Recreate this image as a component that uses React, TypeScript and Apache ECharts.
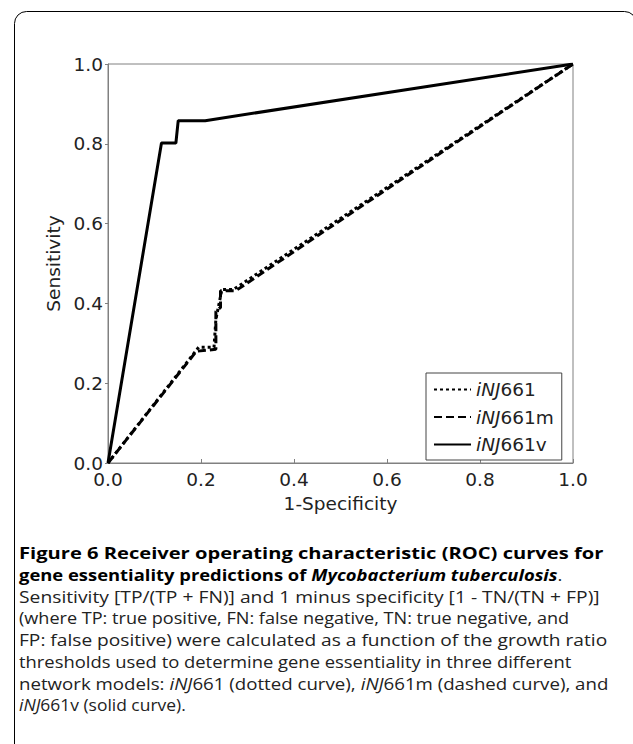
import React, { useEffect, useRef } from "react";
import * as echarts from "echarts";

const seriesNames = ["iNJ661", "iNJ661m", "iNJ661v"];
const dottedPts: [number, number][] = [
  [0, 0], [0.195, 0.29], [0.228, 0.29], [0.232, 0.36], [0.245, 0.435], [0.27, 0.435], [1, 1],
];
const dashedPts: [number, number][] = [
  [0, 0], [0.19, 0.28], [0.232, 0.285], [0.232, 0.38], [0.242, 0.39], [0.242, 0.432], [0.275, 0.432], [1, 1],
];
const solidPts: [number, number][] = [
  [0, 0], [0.115, 0.802], [0.146, 0.802], [0.151, 0.858], [0.209, 0.858], [1, 1],
];

const captionLines: string[] = [
  "{b|Figure 6 Receiver operating characteristic (ROC) curves for}",
  "{b|gene essentiality predictions of }{bi|Mycobacterium tuberculosis}{n|.}",
  "{n|Sensitivity [TP/(TP + FN)] and 1 minus specificity [1 - TN/(TN + FP)]}",
  "{n|(where TP: true positive, FN: false negative, TN: true negative, and}",
  "{n|FP: false positive) were calculated as a function of the growth ratio}",
  "{n|thresholds used to determine gene essentiality in three different}",
  "{n|network models: }{i|iNJ}{n|661 (dotted curve), }{i|iNJ}{n|661m (dashed curve), and}",
  "{i|iNJ}{n|661v (solid curve).}",
];
const captionStretch = [1.258, 1.15, 1.205, 1.13, 1.197, 1.15, 1.168, 1.09];

export default function App() {
  const ref = useRef<HTMLDivElement>(null);
  useEffect(() => {
    if (!ref.current) return;
    const chart = echarts.init(ref.current, undefined, { renderer: "svg" });
    const capFont = "'Open Sans', 'Noto Sans', sans-serif";
    const capSize = 16;
    const rich = {
      b: { fontFamily: capFont, fontSize: capSize, fontWeight: "bold", fill: "#000" },
      bi: { fontFamily: capFont, fontSize: capSize, fontWeight: "bold", fontStyle: "italic", fill: "#000" },
      n: { fontFamily: capFont, fontSize: capSize, fill: "#222" },
      i: { fontFamily: capFont, fontSize: capSize, fontStyle: "italic", fill: "#222" },
    };
    const lineY0 = 553;
    const lineH = 21.7;
    const axisFont = "'DejaVu Sans', sans-serif";
    const fs = 18.5;
    chart.setOption({
      animation: false,
      backgroundColor: "#fff",
      grid: {
        left: 108, top: 64, right: 60, bottom: 281,
        show: true, borderColor: "#808080", borderWidth: 1, backgroundColor: "transparent",
      },
      xAxis: {
        type: "value", min: 0, max: 1, interval: 0.2,
        name: "1-Specificity", nameLocation: "middle", nameGap: 30,
        nameTextStyle: { fontFamily: axisFont, fontSize: fs, color: "#222" },
        axisLine: { show: true, lineStyle: { color: "#808080", width: 1 } },
        axisTick: { show: true, inside: true, length: 4, lineStyle: { color: "#808080" } },
        axisLabel: {
          fontFamily: axisFont, fontSize: fs, color: "#222", margin: 7,
          formatter: (v: number) => v.toFixed(1),
        },
        splitLine: { show: false },
      },
      yAxis: {
        type: "value", min: 0, max: 1, interval: 0.2,
        name: "Sensitivity", nameLocation: "middle", nameGap: 43,
        nameTextStyle: { fontFamily: axisFont, fontSize: fs, color: "#222" },
        axisLine: { show: true, lineStyle: { color: "#808080", width: 1 } },
        axisTick: { show: true, inside: false, length: 3, lineStyle: { color: "#808080" } },
        axisLabel: {
          fontFamily: axisFont, fontSize: fs, color: "#222", margin: 5,
          formatter: (v: number) => v.toFixed(1),
        },
        splitLine: { show: false },
      },
      legend: {
        orient: "vertical",
        left: 426, top: 373,
        width: 141,
        padding: [7, 8, 6, 7],
        itemWidth: 37, itemHeight: 14, itemGap: 8.5,
        borderColor: "#444", borderWidth: 1, backgroundColor: "#fff",
        itemStyle: { opacity: 0 },
        data: seriesNames,
        formatter: (name: string) => "{i|iNJ}{n|" + name.slice(3) + "}",
        textStyle: {
          fontFamily: axisFont, fontSize: fs, color: "#222",
          rich: {
            i: { fontFamily: axisFont, fontSize: fs, fontStyle: "italic", color: "#222" },
            n: { fontFamily: axisFont, fontSize: fs, color: "#222" },
          },
        },
      },
      series: [
        {
          name: seriesNames[0], type: "line", data: dottedPts, symbol: "none",
          lineStyle: { color: "#000", width: 3, type: [3, 3] },
          itemStyle: { color: "#000" },
        },
        {
          name: seriesNames[1], type: "line", data: dashedPts, symbol: "none",
          lineStyle: { color: "#000", width: 3, type: [8, 4] },
          itemStyle: { color: "#000" },
        },
        {
          name: seriesNames[2], type: "line", data: solidPts, symbol: "none",
          lineStyle: { color: "#000", width: 3, type: "solid" },
          itemStyle: { color: "#000" },
        },
      ],
      graphic: [
        {
          type: "rect",
          shape: { x: 14.5, y: 11.5, width: 622, height: 780, r: 12 },
          style: { fill: "none", stroke: "#000", lineWidth: 1 },
          silent: true,
        },
        ...captionLines.map((t, k) => ({
          type: "text",
          x: 19,
          y: lineY0 + k * lineH,
          scaleX: captionStretch[k],
          style: { text: t, rich, verticalAlign: "middle", align: "left" },
          silent: true,
        })),
      ],
    });
    return () => chart.dispose();
  }, []);
  return (
    <div
      ref={ref}
      style={{ position: "absolute", left: 0, top: 0, width: 633, height: 744, background: "#fff" }}
    />
  );
}
